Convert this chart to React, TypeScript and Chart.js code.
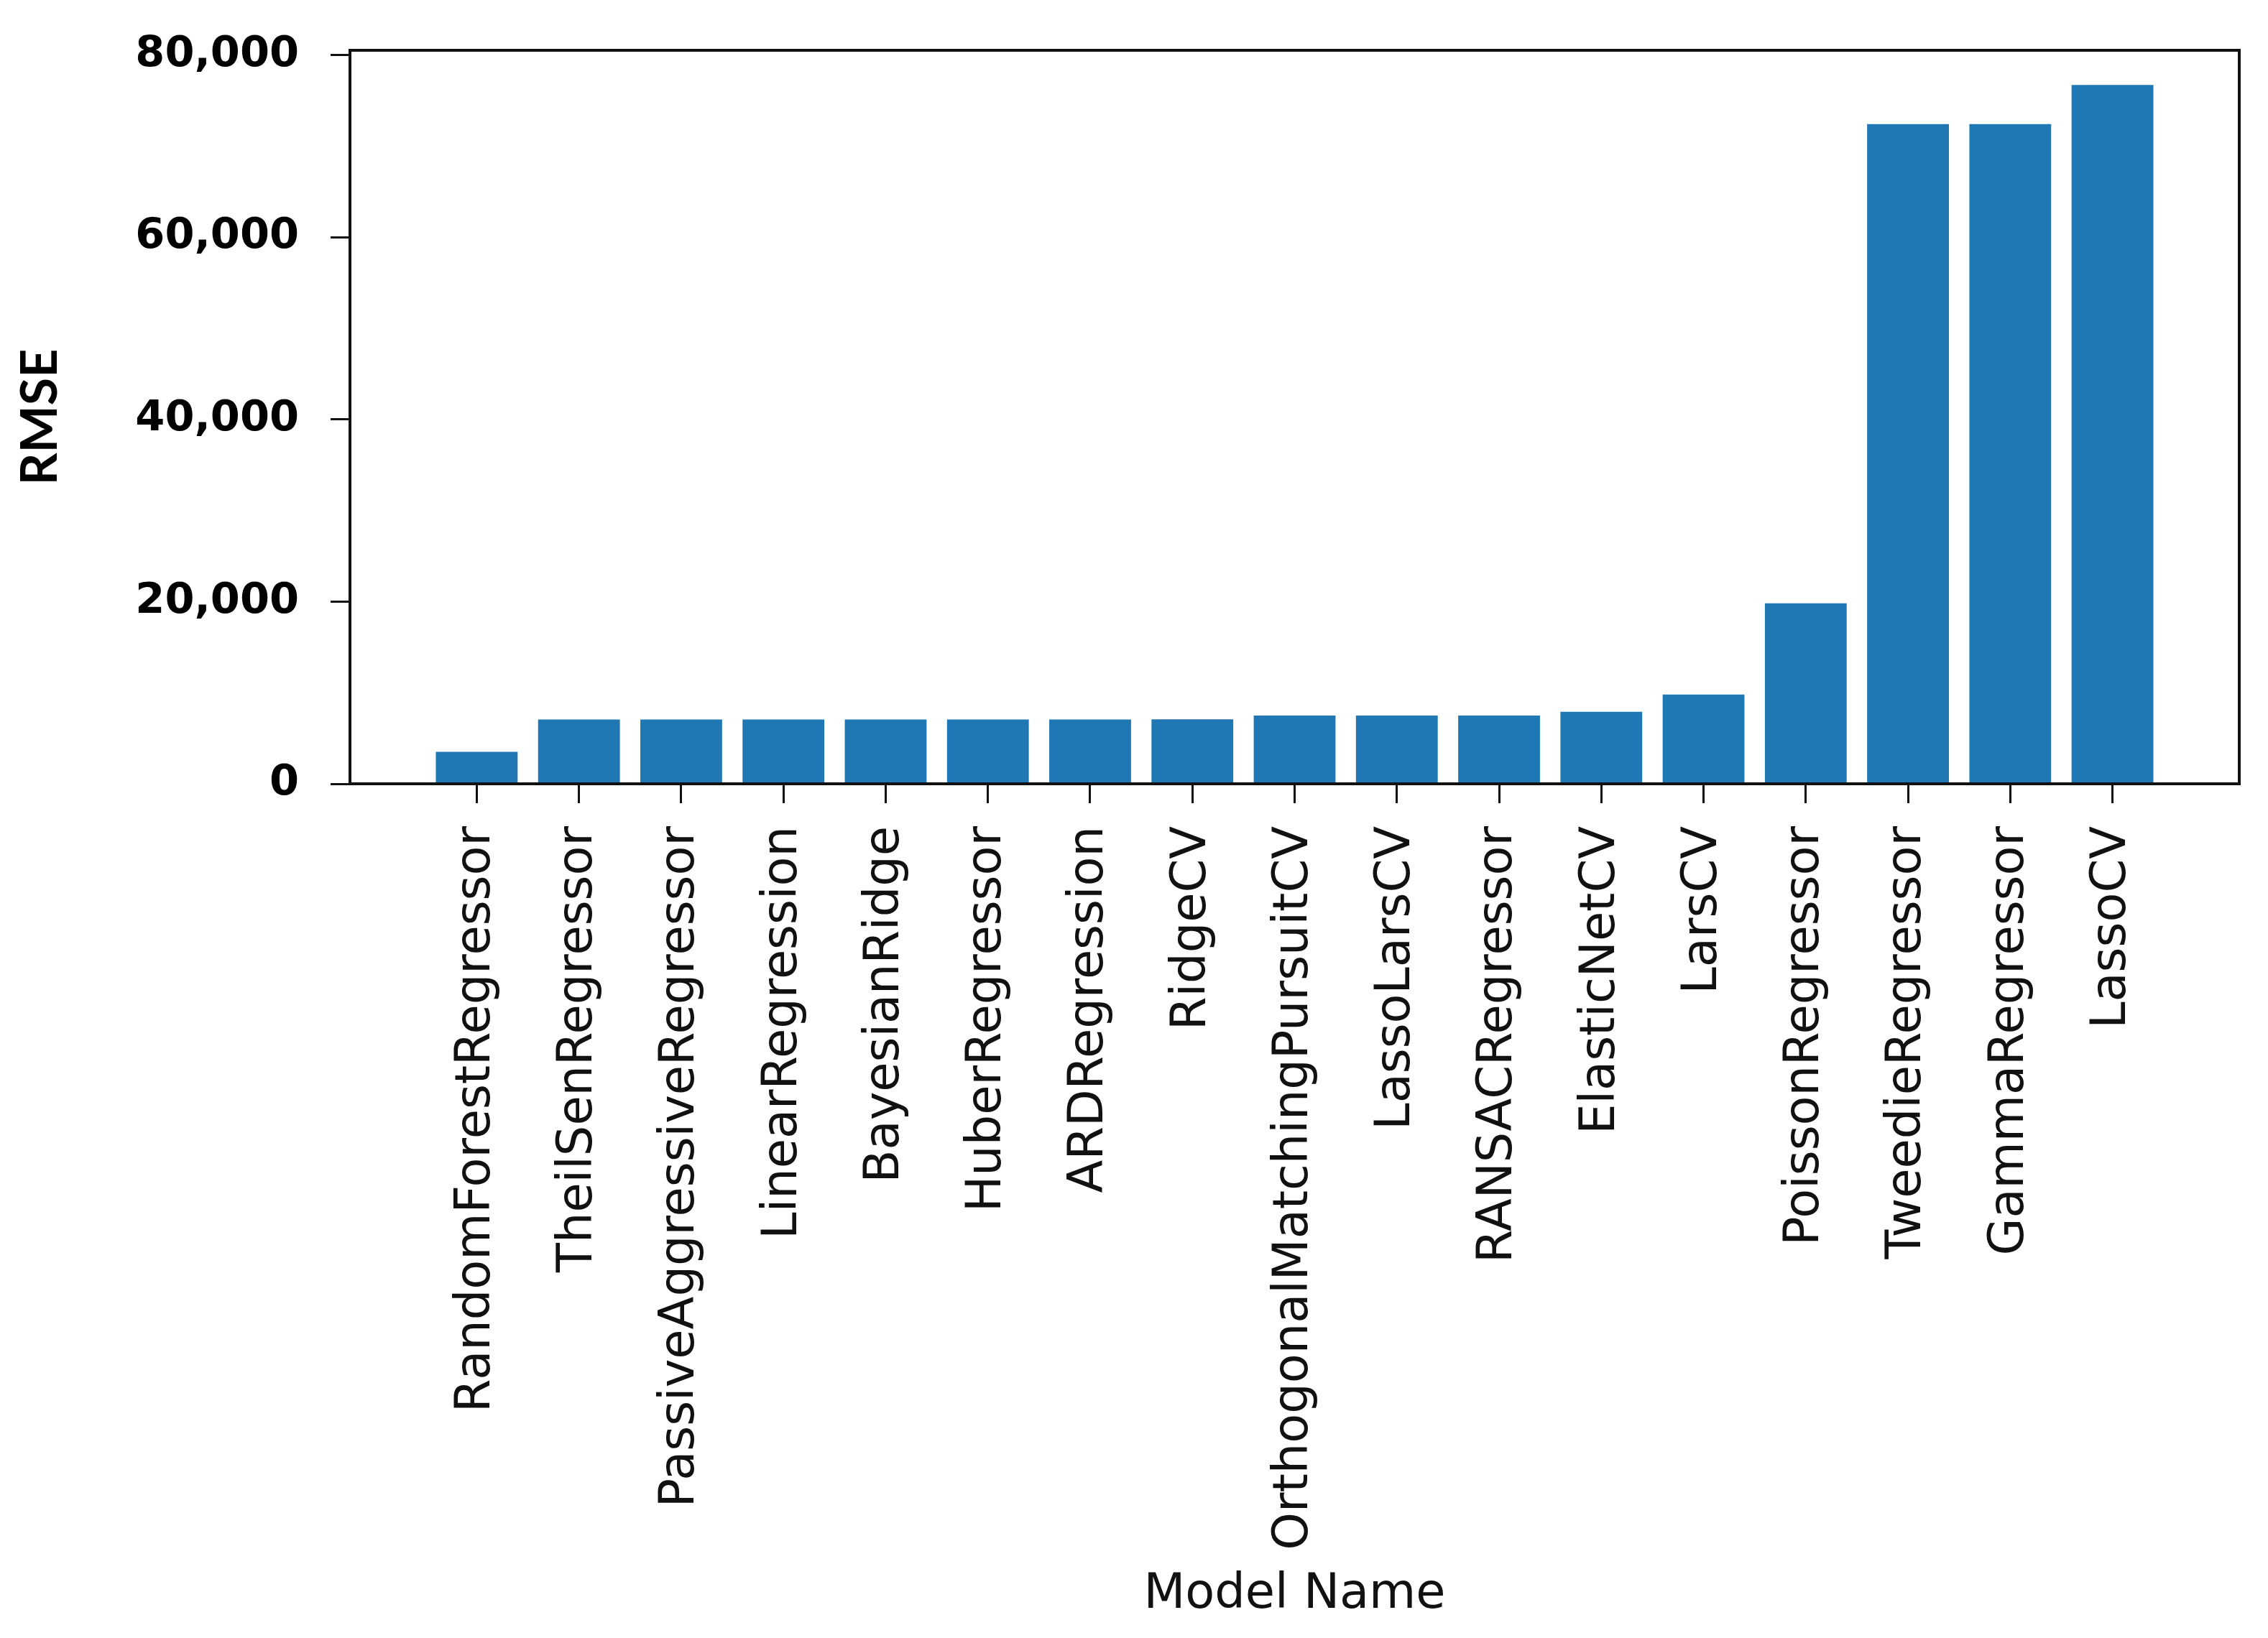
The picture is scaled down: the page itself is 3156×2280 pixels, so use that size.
import React, { useEffect, useRef } from "react";
import { Chart, registerables } from "chart.js";

Chart.register(...registerables);

const categories: string[] = [
  "RandomForestRegressor",
  "TheilSenRegressor",
  "PassiveAggressiveRegressor",
  "LinearRegression",
  "BayesianRidge",
  "HuberRegressor",
  "ARDRegression",
  "RidgeCV",
  "OrthogonalMatchingPursuitCV",
  "LassoLarsCV",
  "RANSACRegressor",
  "ElasticNetCV",
  "LarsCV",
  "PoissonRegressor",
  "TweedieRegressor",
  "GammaRegressor",
  "LassoCV",
];

const rmseValues: number[] = [
  3500, 7050, 7050, 7050, 7050, 7050, 7050, 7080, 7500, 7500, 7500, 7900, 9800,
  19800, 72400, 72400, 76700,
];

const yTicks: number[] = [0, 20000, 40000, 60000, 80000];
const xAxisTitle = "Model Name";
const yAxisTitle = "RMSE";

const framePlugin = {
  id: "frame",
  afterDatasetsDraw(chart: any) {
    const { ctx, chartArea } = chart;
    ctx.save();
    ctx.strokeStyle = "#111111";
    ctx.lineWidth = 4;
    ctx.strokeRect(
      chartArea.left,
      chartArea.top,
      chartArea.right - chartArea.left,
      chartArea.bottom - chartArea.top
    );
    ctx.restore();
  },
};

export default function App() {
  const canvasRef = useRef<HTMLCanvasElement | null>(null);

  useEffect(() => {
    if (!canvasRef.current) return;
    const n = categories.length;
    const margin = 0.05 * (n - 1 + 0.8);
    const chart = new Chart(canvasRef.current, {
      type: "bar",
      data: {
        datasets: [
          {
            label: yAxisTitle,
            data: rmseValues.map((v, i) => ({ x: i, y: v })),
            backgroundColor: "#1f77b4",
            borderWidth: 0,
            categoryPercentage: 1.0,
            barPercentage: 0.8,
          },
        ],
      },
      options: {
        animation: false,
        responsive: true,
        maintainAspectRatio: false,
        layout: { padding: { left: 0, right: 40, top: 70, bottom: 19 } },
        plugins: {
          legend: { display: false },
          tooltip: { enabled: false },
        },
        scales: {
          x: {
            type: "linear",
            offset: false,
            min: -0.4 - margin,
            max: n - 1 + 0.4 + margin,
            afterBuildTicks: (scale: any) => {
              scale.ticks = categories.map((_, i) => ({ value: i }));
            },
            afterFit: (scale: any) => {
              scale.height = 2280 - 19 - 1091;
              scale.paddingLeft = 0;
              scale.paddingRight = 0;
            },
            grid: {
              display: true,
              drawOnChartArea: false,
              drawTicks: true,
              tickLength: 27,
              color: "#111111",
              lineWidth: 3,
              offset: false,
            },
            border: { display: false },
            ticks: {
              autoSkip: false,
              maxRotation: 90,
              minRotation: 90,
              padding: 32,
              color: "#111111",
              font: { family: "DejaVu Sans", size: 67 },
              callback: (value: any) => categories[Math.round(Number(value))] ?? "",
            },
            title: {
              display: true,
              text: xAxisTitle,
              color: "#111111",
              font: { family: "DejaVu Sans", size: 67 },
              padding: { top: 0, bottom: 0 },
            },
          },
          y: {
            type: "linear",
            min: 0,
            max: 80500,
            afterBuildTicks: (scale: any) => {
              scale.ticks = yTicks.map((v) => ({ value: v }));
            },
            afterFit: (scale: any) => {
              scale.width = 487;
              scale.paddingTop = 0;
              scale.paddingBottom = 0;
            },
            grid: {
              display: true,
              drawOnChartArea: false,
              drawTicks: true,
              tickLength: 27,
              color: "#111111",
              lineWidth: 3,
            },
            border: { display: false },
            ticks: {
              padding: 44,
              color: "#000000",
              font: { family: "DejaVu Sans", size: 59, weight: "bold" },
              callback: (value: any) => Number(value).toLocaleString("en-US"),
            },
            title: {
              display: true,
              text: yAxisTitle,
              color: "#000000",
              font: { family: "Lato", size: 70, weight: "bold" },
              padding: { top: 14, bottom: 0 },
            },
          },
        },
      },
      plugins: [framePlugin],
    });
    return () => chart.destroy();
  }, []);

  return (
    <div
      style={{
        position: "absolute",
        left: 0,
        top: 0,
        width: "3156px",
        height: "2280px",
        background: "#ffffff",
      }}
    >
      <canvas ref={canvasRef} />
    </div>
  );
}
